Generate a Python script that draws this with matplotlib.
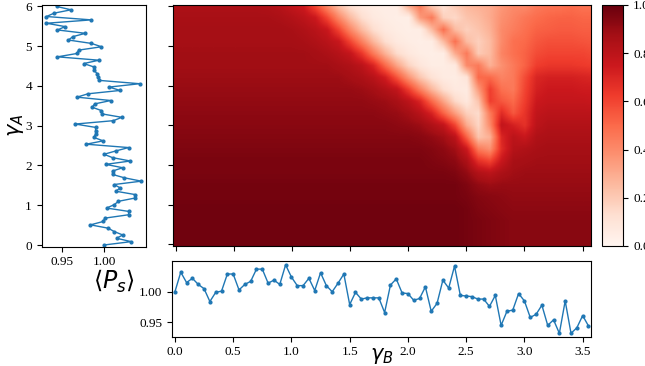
import numpy as np
import matplotlib
matplotlib.use("Agg")
import matplotlib.pyplot as plt

plt.rcParams['font.family'] = 'serif'
plt.rcParams['font.serif'] = ['Liberation Serif', 'DejaVu Serif']
plt.rcParams['mathtext.fontset'] = 'dejavusans'

# mean survival probability, shared by the two side panels
ps_mean = [1.000, 1.032, 1.015, 1.022, 1.012, 1.005, 0.984, 0.999, 1.001, 1.029,
           1.029, 1.003, 1.012, 1.017, 1.037, 1.037, 1.014, 1.019, 1.012, 1.044,
           1.024, 1.010, 1.010, 1.022, 1.002, 1.031, 1.010, 1.000, 1.014, 1.029,
           0.979, 0.999, 0.988, 0.990, 0.990, 0.990, 0.966, 1.011, 1.021, 0.998,
           0.997, 0.986, 0.989, 1.008, 0.968, 0.981, 1.019, 1.006, 1.042, 0.994,
           0.993, 0.992, 0.988, 0.988, 0.976, 0.994, 0.945, 0.968, 0.970, 0.997,
           0.985, 0.958, 0.963, 0.978, 0.945, 0.954, 0.932, 0.985, 0.932, 0.941,
           0.961, 0.944]
gamma_a = np.linspace(0, 6, len(ps_mean))
gamma_b = np.arange(len(ps_mean)) * 0.05

grid_gb = np.round(np.arange(37) * 0.1, 2)
grid_ga = np.round(np.arange(21) * 0.3, 2)
row_00 = [0.98]*25 + [0.97, 0.96, 0.95, 0.94] + [0.93]*8
row_03 = [0.98]*25 + [0.97, 0.96, 0.95, 0.94] + [0.93]*8
row_06 = [0.98]*25 + [0.97, 0.96, 0.95, 0.94] + [0.93]*8
row_09 = [0.98]*25 + [0.97, 0.95, 0.94, 0.93] + [0.92]*8
row_12 = [0.97]*25 + [0.96, 0.94, 0.93, 0.92] + [0.91]*8
row_15 = [0.97]*25 + [0.95, 0.91, 0.89, 0.90] + [0.90]*8
row_18 = [0.96]*24 + [0.95, 0.91, 0.83, 0.80, 0.85, 0.88] + [0.89]*7
row_21 = [0.96]*22 + [0.95, 0.94, 0.92, 0.85, 0.66, 0.60, 0.76, 0.86, 0.87] + [0.88]*6
row_24 = [0.95]*22 + [0.94, 0.92, 0.88, 0.75, 0.45, 0.38, 0.68, 0.82, 0.84, 0.86] + [0.87]*5
row_27 = [0.94]*21 + [0.93, 0.91, 0.88, 0.80, 0.52, 0.22, 0.28, 0.70, 0.80, 0.76, 0.84] + [0.85]*5
row_30 = [0.93]*19 + [0.92, 0.91, 0.89, 0.84, 0.78, 0.60, 0.30, 0.16, 0.40, 0.78, 0.72,
                      0.66, 0.80, 0.83, 0.83, 0.83, 0.83, 0.83]
row_33 = [0.92]*18 + [0.91, 0.90, 0.87, 0.81, 0.71, 0.52, 0.34, 0.18, 0.14, 0.45, 0.68,
                      0.55, 0.65, 0.78, 0.80, 0.80, 0.80, 0.80, 0.80]
row_36 = [0.91]*17 + [0.90, 0.89, 0.86, 0.80, 0.70, 0.50, 0.32, 0.15, 0.08, 0.22, 0.62,
                      0.55, 0.50, 0.62, 0.75, 0.77, 0.77, 0.77, 0.77, 0.76]
row_39 = [0.90]*16 + [0.89, 0.87, 0.83, 0.78, 0.62, 0.43, 0.26, 0.13, 0.07, 0.06, 0.35,
                      0.62, 0.48, 0.45, 0.60, 0.72, 0.75, 0.75, 0.75, 0.74, 0.74]
row_42 = [0.89]*15 + [0.87, 0.85, 0.81, 0.73, 0.56, 0.37, 0.21, 0.11, 0.06, 0.05, 0.10,
                      0.50, 0.50, 0.42, 0.45, 0.58, 0.70, 0.72, 0.72, 0.72, 0.71, 0.70]
row_45 = [0.88]*14 + [0.86, 0.84, 0.80, 0.70, 0.50, 0.32, 0.17, 0.09, 0.05, 0.05, 0.07,
                      0.40, 0.45, 0.28, 0.38, 0.45, 0.52, 0.62, 0.64, 0.64, 0.64, 0.63, 0.62]
row_48 = [0.88]*12 + [0.87, 0.85, 0.82, 0.77, 0.64, 0.45, 0.28, 0.14, 0.08, 0.05, 0.04,
                      0.05, 0.30, 0.45, 0.20, 0.25, 0.42, 0.48, 0.52, 0.58, 0.60, 0.60,
                      0.60, 0.60, 0.58]
row_51 = [0.87]*11 + [0.86, 0.84, 0.81, 0.76, 0.60, 0.43, 0.26, 0.13, 0.07, 0.05, 0.04,
                      0.05, 0.25, 0.48, 0.25, 0.18, 0.25, 0.40, 0.48, 0.50, 0.55, 0.57,
                      0.57, 0.57, 0.56, 0.55]
row_54 = [0.87]*10 + [0.86, 0.84, 0.81, 0.76, 0.60, 0.41, 0.25, 0.13, 0.07, 0.05, 0.04,
                      0.05, 0.25, 0.48, 0.25, 0.18, 0.22, 0.28, 0.40, 0.44, 0.48, 0.52,
                      0.53, 0.54, 0.54, 0.53, 0.53]
row_57 = [0.86]*9 + [0.85, 0.83, 0.80, 0.75, 0.60, 0.41, 0.25, 0.13, 0.07, 0.05, 0.04,
                     0.04, 0.35, 0.45, 0.18, 0.15, 0.22, 0.25, 0.30, 0.38, 0.42, 0.46,
                     0.49, 0.51, 0.52, 0.52, 0.51, 0.51]
row_60 = [0.85]*8 + [0.84, 0.82, 0.78, 0.74, 0.58, 0.40, 0.23, 0.12, 0.07, 0.05, 0.04,
                     0.05, 0.30, 0.45, 0.20, 0.12, 0.20, 0.26, 0.28, 0.30, 0.36, 0.40,
                     0.40, 0.45, 0.47, 0.47, 0.49, 0.47, 0.47]
ps_map = np.array([row_00, row_03, row_06, row_09, row_12, row_15, row_18, row_21,
                   row_24, row_27, row_30, row_33, row_36, row_39, row_42, row_45,
                   row_48, row_51, row_54, row_57, row_60])

fig = plt.figure(figsize=(6.45, 3.66), dpi=100)
ax_map = fig.add_axes([0.2678, 0.3279, 0.649, 0.659])
ax_left = fig.add_axes([0.0647, 0.326, 0.1617, 0.661])
ax_bot = fig.add_axes([0.2667, 0.080, 0.6502, 0.2057])
ax_cb = fig.add_axes([0.9329, 0.3279, 0.0335, 0.659])

dx = grid_gb[1] - grid_gb[0]
dy = grid_ga[1] - grid_ga[0]
im = ax_map.imshow(ps_map, origin='lower', aspect='auto', cmap='Reds', vmin=0, vmax=1,
                   interpolation='bilinear', interpolation_stage='data',
                   extent=(grid_gb[0] - dx/2, grid_gb[-1] + dx/2, grid_ga[0] - dy/2, grid_ga[-1] + dy/2))
xlim = (gamma_b[0] - 0.025, gamma_b[-1] + 0.025)
half_a = (gamma_a[1] - gamma_a[0]) / 2
ylim = (gamma_a[0] - half_a, gamma_a[-1] + half_a)
ax_map.set_xlim(xlim)
ax_map.set_ylim(ylim)
ax_map.set_xticks(np.arange(0, 3.6, 0.5))
ax_map.set_yticks(range(7))
ax_map.set_xticklabels([])
ax_map.set_yticklabels([])

cb = fig.colorbar(im, cax=ax_cb)
cb.set_ticks([0, 0.2, 0.4, 0.6, 0.8, 1.0])
cb.ax.tick_params(labelsize=9.5)
cb.outline.set_linewidth(0.8)

ax_left.plot(ps_mean, gamma_a, '.-', color='#1f77b4', lw=1, ms=4)
ax_left.set_ylim(ylim)
ax_left.set_xticks([0.95, 1.00])
ax_left.set_yticks(range(7))
ax_left.tick_params(labelsize=9.5)
ax_left.set_ylabel(r'$\gamma_A$', fontsize=15)
ax_left.yaxis.set_label_coords(-0.15, 0.5)

ax_bot.plot(gamma_b, ps_mean, '.-', color='#1f77b4', lw=1, ms=4)
ax_bot.set_xlim(xlim)
ax_bot.set_yticks([0.95, 1.00])
ax_bot.set_xticks(np.arange(0, 3.6, 0.5))
ax_bot.tick_params(labelsize=9.5)
ax_bot.set_xlabel(r'$\gamma_B$', fontsize=15, va='center')
ax_bot.xaxis.set_label_coords(0.5, -0.25)
ax_bot.set_ylabel(r'$\langle P_s \rangle$', fontsize=17, rotation=0, ha='center', va='center')
ax_bot.yaxis.set_label_coords(-0.138, 0.74)

fig.savefig('out.png', dpi=100)
